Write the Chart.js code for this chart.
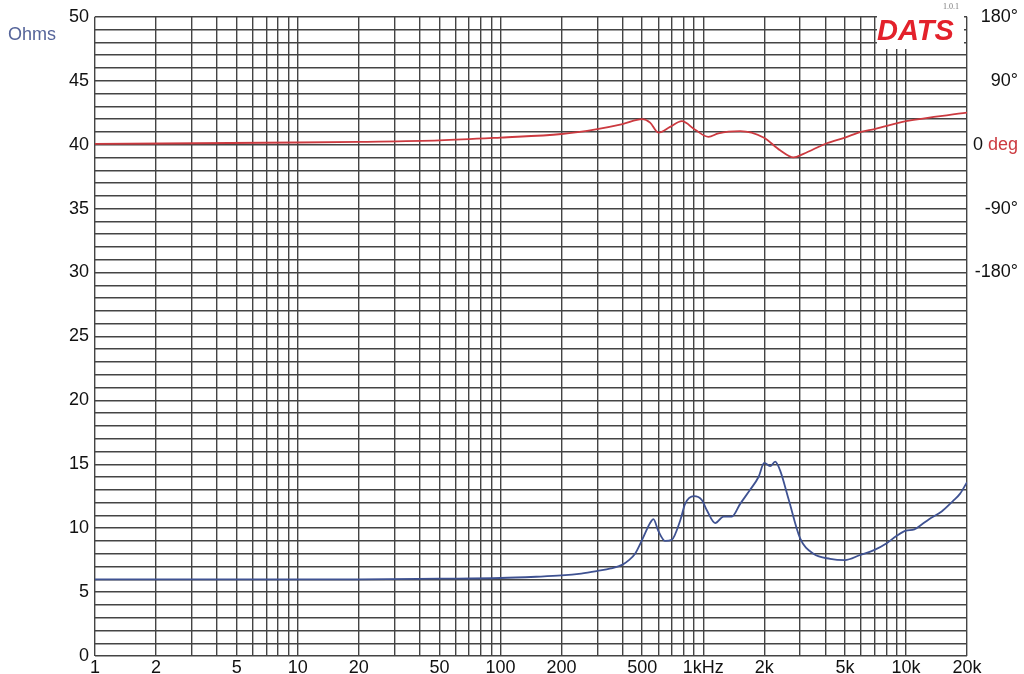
<!DOCTYPE html>
<html>
<head>
<meta charset="utf-8">
<script src="https://cdn.jsdelivr.net/npm/chart.js@4.4.0/dist/chart.umd.min.js"></script>
<style>
html, body { margin: 0; padding: 0; background: #fff; }
#wrap { width: 1024px; height: 674px; position: relative; }
</style>
</head>
<body>
<div id="wrap"><canvas id="chart" width="1024" height="674"></canvas></div>
<script>
// impedance curve (Hz / Ohms)
const impFreq = [1, 5, 20, 50, 100, 150, 200, 250, 300, 350, 400, 430, 461, 500, 547, 568, 600, 649, 700, 770, 814, 900, 984, 1042, 1145, 1259, 1384, 1521, 1703, 1874, 2000, 2138, 2264, 2396, 2633, 3006, 3497, 4228, 5000, 5943, 7000, 8000, 9000, 10000, 11000, 12000, 13000, 15000, 17000, 18500, 20000];
const impOhms = [6.0, 6.0, 6.0, 6.05, 6.1, 6.2, 6.3, 6.45, 6.65, 6.85, 7.15, 7.5, 8.0, 9.1, 10.4, 10.7, 9.8, 9.0, 9.1, 10.6, 11.9, 12.5, 12.2, 11.4, 10.4, 10.9, 10.9, 11.9, 13.0, 14.0, 15.1, 14.85, 15.2, 14.5, 12.3, 9.2, 8.0, 7.6, 7.5, 7.9, 8.3, 8.8, 9.4, 9.8, 9.9, 10.3, 10.7, 11.3, 12.1, 12.7, 13.6];

// phase curve (Hz / degrees)
const phaseFreq = [1, 10, 20, 50, 100, 200, 300, 400, 500, 547, 601, 687, 784, 912, 1061, 1189, 1521, 1983, 2395, 2786, 3122, 4067, 5000, 6000, 7000, 10000, 20000];
const phaseDeg = [1, 3, 4, 6, 10, 15, 22, 29, 36, 31, 17, 25, 33, 21, 11, 16, 19, 10, -8, -18, -13, 2, 10, 18, 22, 33, 45];

// tick labels
const freqLabels = {1: '1', 2: '2', 5: '5', 10: '10', 20: '20', 50: '50', 100: '100', 200: '200', 500: '500',
  1000: '1kHz', 2000: '2k', 5000: '5k', 10000: '10k', 20000: '20k'};
const phaseLabels = {180: '180°', 90: '90°', '-90': '-90°', '-180': '-180°'};

const gridColor = '#444';
const impColor = '#3f5292';
const phaseColor = '#cc3a40';
const fontFamily = '"Liberation Sans", Arial, sans-serif';

function toPoints(xs, ys) {
    return xs.map((x, i) => ({ x: x, y: ys[i] }));
}

// grid lines: 1..9 per decade, then 10k and 20k
const gridFreqs = [];
for (let d = 1; d <= 1000; d *= 10) {
    for (let m = 1; m <= 9; m++) gridFreqs.push(m * d);
}
gridFreqs.push(10000, 20000);

const extras = {
    id: 'extras',
    afterDraw(chart) {
        const ctx = chart.ctx;
        const y2 = chart.scales.y2;
        ctx.save();
        ctx.textBaseline = 'middle';
        ctx.font = '18px ' + fontFamily;
        // "0 deg" on the phase axis
        const y0 = y2.getPixelForValue(0);
        ctx.fillStyle = '#111';
        ctx.fillText('0', 973, y0);
        ctx.fillStyle = phaseColor;
        ctx.fillText('deg', 988, y0);
        // Ohms
        ctx.fillStyle = '#55649a';
        ctx.fillText('Ohms', 8, 35);
        // logo
        ctx.fillStyle = '#fff';
        ctx.fillRect(877, 16, 87, 33);
        ctx.font = 'italic bold 29px ' + fontFamily;
        ctx.fillStyle = '#e3212b';
        ctx.fillText('DATS', 877, 32);
        ctx.font = '8px "Liberation Serif", serif';
        ctx.fillStyle = '#777';
        ctx.fillText('1.0.1', 943, 7);
        ctx.restore();
    }
};

const tickFont = { family: fontFamily, size: 18 };

new Chart(document.getElementById('chart'), {
    type: 'scatter',
    data: {
        datasets: [{
            label: 'Impedance',
            data: toPoints(impFreq, impOhms),
            showLine: true,
            borderColor: impColor,
            borderWidth: 1.8,
            pointRadius: 0,
            cubicInterpolationMode: 'monotone',
            yAxisID: 'y'
        }, {
            label: 'Phase',
            data: toPoints(phaseFreq, phaseDeg),
            showLine: true,
            borderColor: phaseColor,
            borderWidth: 1.8,
            pointRadius: 0,
            cubicInterpolationMode: 'monotone',
            yAxisID: 'y2'
        }]
    },
    options: {
        responsive: false,
        animation: false,
        layout: { padding: { top: 13, left: 0, right: 6, bottom: 0 } },
        plugins: { legend: { display: false }, tooltip: { enabled: false } },
        scales: {
            x: {
                type: 'logarithmic',
                min: 1,
                max: 20000,
                afterBuildTicks(scale) {
                    scale.ticks = gridFreqs.map(v => ({ value: v }));
                },
                afterFit(scale) { scale.height = 18; },
                grid: { color: gridColor, lineWidth: 1.4, drawTicks: false },
                border: { display: false },
                ticks: {
                    autoSkip: false,
                    maxRotation: 0,
                    padding: 1,
                    color: '#111',
                    font: tickFont,
                    callback: v => freqLabels[v] || ''
                }
            },
            y: {
                position: 'left',
                min: 0,
                max: 50,
                afterFit(scale) { scale.width = 95; },
                grid: { color: gridColor, lineWidth: 1.4, drawTicks: false },
                border: { display: false },
                ticks: {
                    stepSize: 1,
                    autoSkip: false,
                    padding: 6,
                    color: '#111',
                    font: tickFont,
                    callback: v => (v % 5 === 0 ? String(v) : '')
                }
            },
            y2: {
                position: 'right',
                min: -720,
                max: 180,
                afterFit(scale) { scale.width = 51; },
                grid: { display: false, drawTicks: false },
                border: { display: false },
                ticks: {
                    stepSize: 90,
                    autoSkip: false,
                    crossAlign: 'far',
                    padding: 6,
                    color: '#111',
                    font: tickFont,
                    callback: v => phaseLabels[v] || ''
                }
            }
        }
    },
    plugins: [extras]
});
</script>
</body>
</html>
